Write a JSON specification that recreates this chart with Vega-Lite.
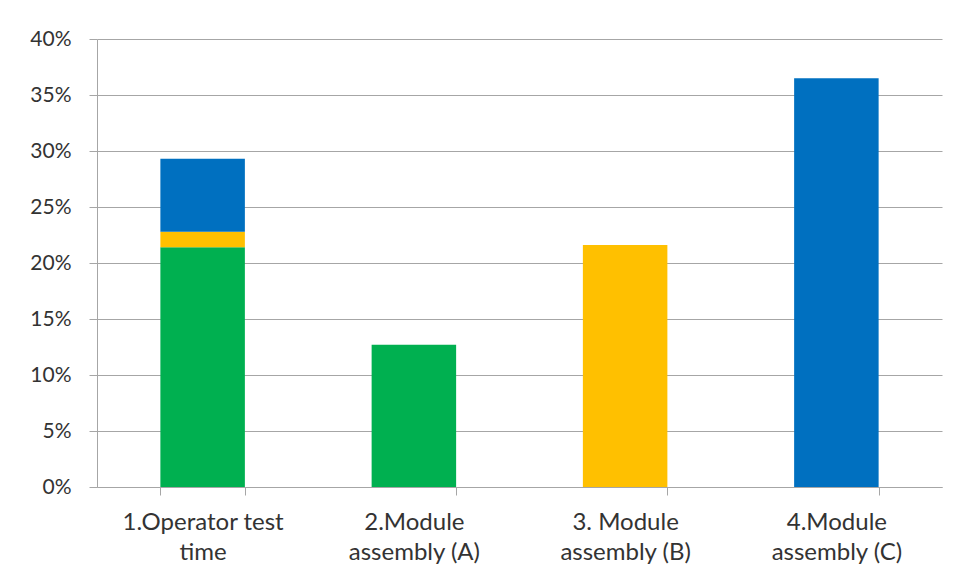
{
  "$schema": "https://vega.github.io/schema/vega-lite/v6.json",
  "autosize": "none",
  "width": 845,
  "height": 448,
  "padding": {"left": 97, "top": 39, "right": 18, "bottom": 93},
  "background": "white",
  "config": {"view": {"stroke": null}},
  "data": {
    "values": [
      {"category": "1.Operator test|time", "part": "A", "share": 0.214},
      {"category": "1.Operator test|time", "part": "B", "share": 0.014},
      {"category": "1.Operator test|time", "part": "C", "share": 0.065},
      {"category": "2.Module|assembly (A)", "part": "A", "share": 0.127},
      {"category": "3. Module|assembly (B)", "part": "B", "share": 0.216},
      {"category": "4.Module|assembly (C)", "part": "C", "share": 0.365}
    ]
  },
  "mark": {"type": "bar"},
  "encoding": {
    "x": {
      "field": "category",
      "type": "nominal",
      "sort": null,
      "scale": {"paddingInner": 0.6, "paddingOuter": 0.3},
      "axis": {
        "title": null,
        "labelAngle": 0,
        "labelExpr": "split(datum.label, '|')",
        "labelFont": "Lato",
        "labelFontSize": 24,
        "labelColor": "#333333",
        "labelLineHeight": 30,
        "labelPadding": 15,
        "tickBand": "extent",
        "tickSize": 8,
        "tickColor": "#A6A6A6",
        "domainColor": "#A6A6A6",
        "grid": false
      }
    },
    "y": {
      "field": "share",
      "type": "quantitative",
      "aggregate": "sum",
      "stack": "zero",
      "scale": {"domain": [0, 0.4], "nice": false},
      "axis": {
        "title": null,
        "values": [0, 0.05, 0.1, 0.15, 0.2, 0.25, 0.3, 0.35, 0.4],
        "format": ".0%",
        "labelFont": "Lato",
        "labelFontSize": 21,
        "labelColor": "#333333",
        "labelPadding": 18,
        "tickSize": 8,
        "tickColor": "#A6A6A6",
        "domainColor": "#A6A6A6",
        "gridColor": "#A6A6A6",
        "gridWidth": 1
      }
    },
    "color": {
      "field": "part",
      "type": "nominal",
      "scale": {"domain": ["A", "B", "C"], "range": ["#00B050", "#FFC000", "#0070C0"]},
      "legend": null
    },
    "order": {"field": "part", "sort": "ascending"}
  }
}
